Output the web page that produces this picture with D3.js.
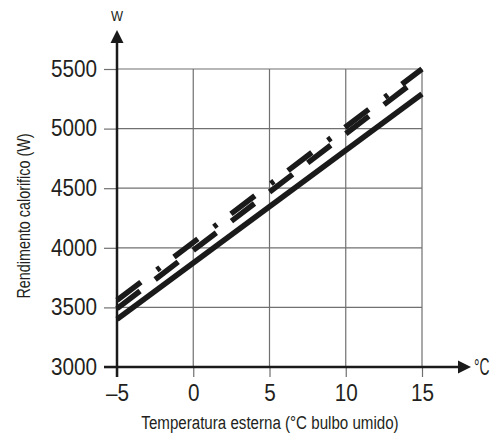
<!DOCTYPE html>
<html>
<head>
<meta charset="utf-8">
<script src="https://cdn.jsdelivr.net/npm/d3@7"></script>
<style>
  html, body { margin: 0; padding: 0; background: #fff; }
  svg { display: block; }
  text { font-family: "Liberation Sans", Arial, sans-serif; fill: #231f20; }
</style>
</head>
<body>
<svg id="chart" width="495" height="439"></svg>
<script>
// ---- data ----
const xTicks = [-5, 0, 5, 10, 15];
const yTicks = [3000, 3500, 4000, 4500, 5000, 5500];
const temps = [-5, 15];
const seriesSolid = [3400, 5290];
const seriesDashed = [3490, 5445];
const seriesDashDot = [3560, 5500];
const xTitle = "Temperatura esterna (°C bulbo umido)";
const yTitle = "Rendimento calorifico (W)";
const xUnit = "°C";
const yUnit = "W";

// ---- layout ----
const svg = d3.select("#chart");
const x = d3.scaleLinear().domain([-5, 15]).range([117, 422]);
const y = d3.scaleLinear().domain([3000, 5500]).range([367, 69]);
const ink = "#1a1a1a";

// condense a text element horizontally (the reference uses a condensed face)
function condense(sel, factor) {
  sel.each(function () {
    const w = this.getComputedTextLength();
    d3.select(this).attr("textLength", w * factor).attr("lengthAdjust", "spacingAndGlyphs");
  });
}

// grid
const grid = svg.append("g");
grid.selectAll("line.h").data(yTicks.slice(1)).join("line")
  .attr("x1", x(-5)).attr("x2", x(15))
  .attr("y1", d => y(d)).attr("y2", d => y(d))
  .attr("stroke", "#707070").attr("stroke-width", 1.2);
grid.selectAll("line.v").data(xTicks.slice(1)).join("line")
  .attr("x1", d => x(d)).attr("x2", d => x(d))
  .attr("y1", y(5500)).attr("y2", y(3000))
  .attr("stroke", "#707070").attr("stroke-width", 1.2);

// axes
const fmtX = d => d < 0 ? "\u2013" + Math.abs(d) : String(d);
const xAxis = svg.append("g").attr("transform", `translate(0,${y(3000)})`)
  .call(d3.axisBottom(x).tickValues(xTicks).tickFormat(fmtX).tickSize(10).tickPadding(8));
const yAxis = svg.append("g").attr("transform", `translate(${x(-5)},0)`)
  .call(d3.axisLeft(y).tickValues(yTicks).tickFormat(d3.format("d")).tickSize(13).tickPadding(7));
[xAxis, yAxis].forEach(a => {
  a.select(".domain").remove();
  a.selectAll(".tick line").attr("stroke", "#707070").attr("stroke-width", 1.2);
  a.selectAll(".tick text").attr("font-size", 23).attr("fill", "#231f20")
    .attr("font-family", "'Liberation Sans', Arial, sans-serif")
    .call(condense, 0.9);
});

// series lines
const line = d3.line().x((d, i) => x(temps[i])).y(d => y(d));
svg.append("path").datum(seriesSolid).attr("d", line)
  .attr("fill", "none").attr("stroke", ink).attr("stroke-width", 5.5);
svg.append("path").datum(seriesDashed).attr("d", line)
  .attr("fill", "none").attr("stroke", ink).attr("stroke-width", 5.5)
  .attr("stroke-dasharray", "29,19");
svg.append("path").datum(seriesDashDot).attr("d", line)
  .attr("fill", "none").attr("stroke", ink).attr("stroke-width", 5.5)
  .attr("stroke-dasharray", "30,20,4,17.5");

// main axis lines with arrows
svg.append("line").attr("x1", 104).attr("x2", 462)
  .attr("y1", y(3000)).attr("y2", y(3000))
  .attr("stroke", ink).attr("stroke-width", 2.5);
svg.append("line").attr("x1", x(-5)).attr("x2", x(-5))
  .attr("y1", 377).attr("y2", 40)
  .attr("stroke", ink).attr("stroke-width", 2.5);
svg.append("path")
  .attr("d", `M471,${y(3000)} L458,${y(3000) - 6.5} L458,${y(3000) + 6.5} Z`)
  .attr("fill", ink);
svg.append("path")
  .attr("d", `M${x(-5)},30 L${x(-5) - 6.5},43 L${x(-5) + 6.5},43 Z`)
  .attr("fill", ink);

// unit labels (°C condensed by a transform so its box stays inside the page)
svg.append("text").attr("transform", `translate(474,${y(3000)}) scale(0.6,1)`)
  .attr("dy", "0.35em").attr("font-size", 23).text(xUnit);
svg.append("text").attr("x", x(-5)).attr("y", 21).attr("text-anchor", "middle")
  .attr("font-size", 15).text(yUnit).call(condense, 0.85);

// titles
svg.append("text").attr("x", 270).attr("y", 429).attr("text-anchor", "middle")
  .attr("font-size", 18).text(xTitle).call(condense, 0.84);
svg.append("text").attr("transform", "translate(30,216) rotate(-90)")
  .attr("text-anchor", "middle").attr("font-size", 17.5).text(yTitle).call(condense, 0.82);
</script>
</body>
</html>
